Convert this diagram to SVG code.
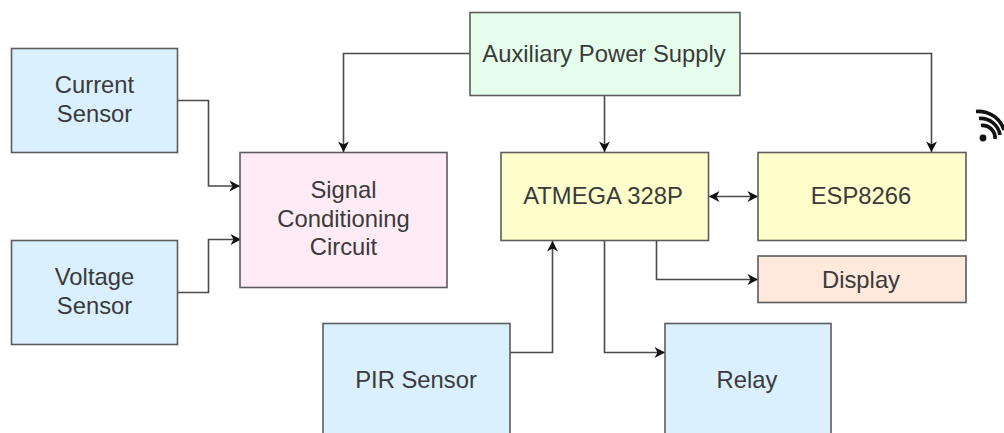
<svg xmlns="http://www.w3.org/2000/svg" width="1004" height="433" viewBox="0 0 1004 433">
<style>
.n{stroke:#5c5c5c;stroke-width:1.6}
.t{font-family:"Liberation Sans",Arial,sans-serif;font-size:23.800px;fill:#3a3a3a;text-anchor:middle}
.c{fill:none;stroke:#4a4a4a;stroke-width:1.6;marker-end:url(#a)}
.w{fill:none;stroke:#111;stroke-width:3.600}
</style>
<defs>
<marker id="a" markerUnits="userSpaceOnUse" markerWidth="12" markerHeight="12" refX="11" refY="6" orient="auto"><path d="M0.500 0.500L11 6L0.500 11.500L3.500 6Z" fill="#111"/></marker>
<marker id="b" markerUnits="userSpaceOnUse" markerWidth="12" markerHeight="12" refX="1" refY="6" orient="auto"><path d="M11.500 0.500L1 6L11.500 11.500L8.500 6Z" fill="#111"/></marker>
</defs>
<rect width="1004" height="433" fill="#fff"/>
<g id="connectors">
<path class="c" d="M177.500 100.500H208.500V186H240"/>
<path class="c" d="M177.500 292.500H208.500V239.500H241"/>
<path class="c" d="M470 53.500H343.500V152"/>
<path class="c" d="M604.500 96V152"/>
<path class="c" d="M740 53.500H931.500V152"/>
<path class="c" style="marker-start:url(#b)" d="M709 196.500H758"/>
<path class="c" d="M656.500 241V279.500H758"/>
<path class="c" d="M604.500 241V352.500H665"/>
<path class="c" d="M510 352.500H552.500V241"/>
</g>
<g id="current-sensor"><rect class="n" x="11.500" y="48.500" width="166" height="104" fill="#dbf0ff"/><text class="t" x="94.500" y="93">Current</text><text class="t" x="94.500" y="122">Sensor</text></g>
<g id="voltage-sensor"><rect class="n" x="11.500" y="240.500" width="166" height="104" fill="#dbf0ff"/><text class="t" x="94.500" y="285">Voltage</text><text class="t" x="94.500" y="314">Sensor</text></g>
<g id="signal-conditioning"><rect class="n" x="240" y="152.500" width="207" height="135" fill="#ffebf6"/><text class="t" x="343.500" y="198">Signal</text><text class="t" x="343.500" y="227">Conditioning</text><text class="t" x="343.500" y="255">Circuit</text></g>
<g id="aux-power"><rect class="n" x="470" y="12.500" width="270" height="83" fill="#e6ffec"/><text class="t" x="604" y="62">Auxiliary Power Supply</text></g>
<g id="atmega"><rect class="n" x="501" y="152.500" width="207.500" height="88" fill="#ffffcc"/><text class="t" x="603" y="204">ATMEGA 328P</text></g>
<g id="esp8266"><rect class="n" x="758" y="152.500" width="208" height="88" fill="#ffffcc"/><text class="t" x="861" y="204">ESP8266</text></g>
<g id="display"><rect class="n" x="758" y="256" width="208" height="46.500" fill="#ffe9dc"/><text class="t" x="861" y="288">Display</text></g>
<g id="pir-sensor"><rect class="n" x="323" y="323.500" width="187" height="125" fill="#dbf0ff"/><text class="t" x="416" y="388">PIR Sensor</text></g>
<g id="relay"><rect class="n" x="665" y="323.500" width="166" height="125" fill="#dbf0ff"/><text class="t" x="747" y="388">Relay</text></g>
<g id="wifi-icon">
<circle cx="983" cy="138" r="3.400" fill="#111"/>
<path class="w" d="M981 125.500A12.500 12.500 0 0 1 995 139"/>
<path class="w" d="M979 118.500A19.500 19.500 0 0 1 1000 135"/>
<path class="w" d="M976 111.500A27 27 0 0 1 1004 130"/>
</g>
</svg>
